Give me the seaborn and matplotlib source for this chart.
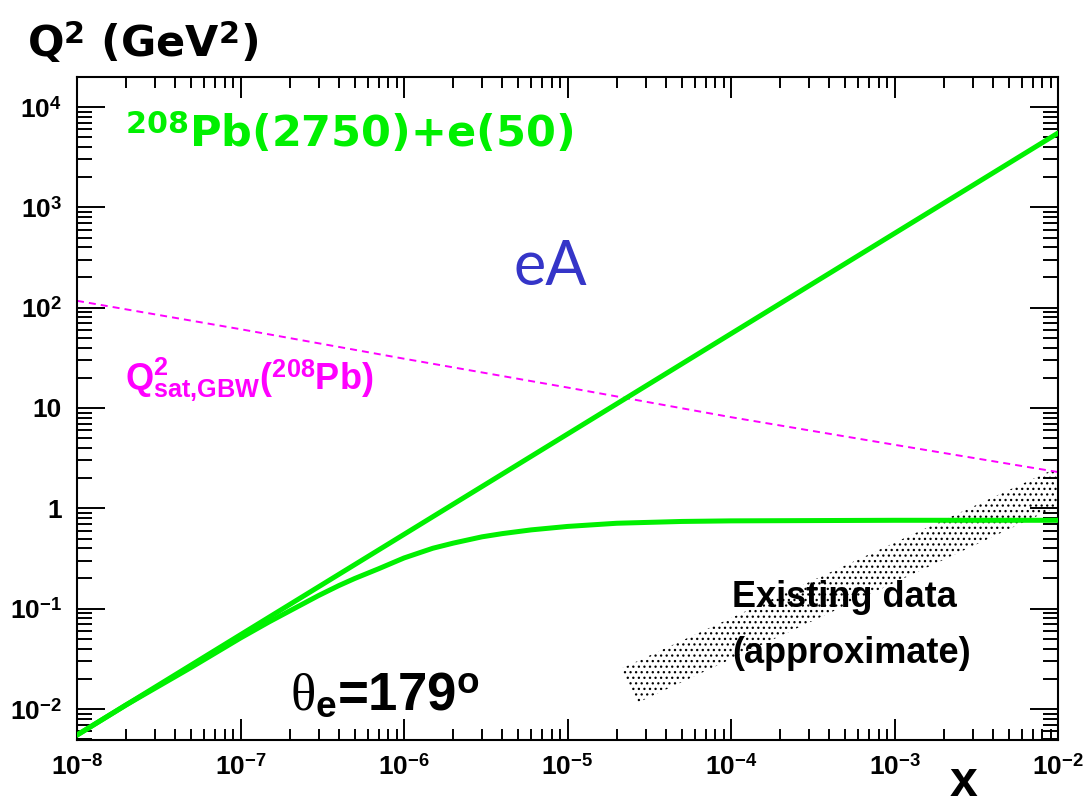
import matplotlib
matplotlib.use("Agg")
import matplotlib.pyplot as plt
import matplotlib.ticker as mticker
import pandas as pd
import seaborn as sns

# ---- data -------------------------------------------------------------
# kinematic limit (y = 1): Q^2 = s x
x_limit = [1e-8, 1e-7, 1e-6, 1e-5, 1e-4, 1e-3, 1e-2]
q2_limit = [0.0055, 0.055, 0.55, 5.5, 55, 550, 5500]

# fixed electron scattering angle theta_e = 179 deg
x_theta = [1e-8, 2e-8, 5e-8, 1e-7, 1.5e-7, 2e-7, 3e-7, 4e-7, 5e-7, 7e-7,
           1e-6, 1.5e-6, 2e-6, 3e-6, 4e-6, 6e-6, 1e-5, 2e-5, 5e-5, 1e-4,
           1e-3, 1e-2]
q2_theta = [0.0055, 0.011, 0.026, 0.051, 0.074, 0.095, 0.135, 0.17, 0.20,
            0.25, 0.32, 0.40, 0.45, 0.52, 0.56, 0.61, 0.66, 0.71, 0.74,
            0.75, 0.76, 0.76]

# GBW saturation scale for 208Pb
x_sat = [1e-8, 1e-7, 1e-6, 1e-5, 1e-4, 1e-3, 1e-2]
q2_sat = [117, 61, 31, 16, 8.1, 4.3, 2.3]

# approximate region covered by existing measurements (polygon corners)
band_x = [2.1e-5, 2.7e-5, 1e-2, 1e-2]
band_q2 = [0.025, 0.0116, 1.05, 2.56]

# axis ticks and labels
x_ticks = [1e-8, 1e-7, 1e-6, 1e-5, 1e-4, 1e-3, 1e-2]
x_labels = [r"$10^{-8}$", r"$10^{-7}$", r"$10^{-6}$", r"$10^{-5}$",
            r"$10^{-4}$", r"$10^{-3}$", r"$10^{-2}$"]
y_ticks = [1e-2, 1e-1, 1, 10, 1e2, 1e3, 1e4]
y_labels = [r"$10^{-2}$", r"$10^{-1}$", "1", "10",
            r"$10^{2}$", r"$10^{3}$", r"$10^{4}$"]

# ---- style ------------------------------------------------------------
sns.set_style("ticks")
plt.rcParams["font.family"] = ["Liberation Sans", "DejaVu Sans"]
plt.rcParams["font.weight"] = "bold"
plt.rcParams["text.color"] = "black"
plt.rcParams["axes.labelcolor"] = "black"
plt.rcParams["xtick.color"] = "black"
plt.rcParams["ytick.color"] = "black"
plt.rcParams["mathtext.fontset"] = "custom"
plt.rcParams["mathtext.rm"] = "Liberation Sans:bold"
plt.rcParams["mathtext.bf"] = "Liberation Sans:bold"
plt.rcParams["mathtext.sf"] = "Liberation Sans:bold"
plt.rcParams["mathtext.it"] = "Liberation Serif:style=normal:weight=normal"
plt.rcParams["hatch.linewidth"] = 0.9

GREEN = "#00f000"
MAGENTA = "#ff00ff"
WIDE = ["DejaVu Sans"]

W, H = 1083, 810
fig = plt.figure(figsize=(W / 100, H / 100), dpi=100)
ax = fig.add_axes([77 / W, 1 - 740 / H, (1058 - 77) / W, (740 - 77) / H])


def fx(px):
    return px / W


def fy(py):
    return 1 - py / H


ax.set_xscale("log")
ax.set_yscale("log")

# existing data band (dotted fill)
ax.fill(band_x, band_q2, facecolor="none", edgecolor="black",
        linewidth=0, hatch="...", zorder=1)

# curves
df_limit = pd.DataFrame({"x": x_limit, "Q2": q2_limit})
df_theta = pd.DataFrame({"x": x_theta, "Q2": q2_theta})
df_sat = pd.DataFrame({"x": x_sat, "Q2": q2_sat})

sns.lineplot(data=df_sat, x="x", y="Q2", ax=ax, color=MAGENTA, lw=1.4,
             ls=(0, (3.6, 2.6)), estimator=None, sort=False, zorder=2)
sns.lineplot(data=df_limit, x="x", y="Q2", ax=ax, color=GREEN, lw=3.6,
             estimator=None, sort=False, zorder=3)
sns.lineplot(data=df_theta, x="x", y="Q2", ax=ax, color=GREEN, lw=3.6,
             estimator=None, sort=False, zorder=3)

ax.set_xlim(1e-8, 1e-2)
ax.set_ylim(4.91e-3, 1.99e4)
ax.set_xlabel("")
ax.set_ylabel("")

# ticks on all four sides, pointing inwards
ax.xaxis.set_major_locator(mticker.FixedLocator(x_ticks))
ax.xaxis.set_major_formatter(mticker.FixedFormatter(x_labels))
ax.yaxis.set_major_locator(mticker.FixedLocator(y_ticks))
ax.yaxis.set_major_formatter(mticker.FixedFormatter(y_labels))
ax.xaxis.set_minor_locator(mticker.LogLocator(base=10, subs=range(2, 10), numticks=30))
ax.yaxis.set_minor_locator(mticker.LogLocator(base=10, subs=range(2, 10), numticks=30))
ax.xaxis.set_minor_formatter(mticker.NullFormatter())
ax.yaxis.set_minor_formatter(mticker.NullFormatter())

ax.tick_params(axis="both", which="both", direction="in", top=True,
               right=True, width=1.4, color="black", labelcolor="black",
               labelsize=19)
ax.tick_params(axis="x", which="major", length=15, pad=10)
ax.tick_params(axis="x", which="minor", length=8)
ax.tick_params(axis="y", which="major", length=20, pad=11)
ax.tick_params(axis="y", which="minor", length=11)
for s in ax.spines.values():
    s.set_linewidth(1.5)
    s.set_color("black")

# ---- annotations ----------------------------------------------------------
fig.text(fx(27), fy(57), r"Q$^{\mathdefault{2}}$ (GeV$^{\mathdefault{2}}$)",
         fontsize=31, fontweight="bold", family=WIDE, va="baseline",
         ha="left")
fig.text(fx(964), fy(796), "x", fontsize=36, fontweight="bold",
         va="baseline", ha="center")
fig.text(fx(125), fy(147), r"$^{\mathdefault{208}}$Pb(2750)+e(50)",
         color=GREEN, fontsize=31, fontweight="bold", family=WIDE,
         va="baseline", ha="left")
fig.text(fx(513), fy(285), "eA", color="#3535c8", fontsize=44,
         family="Lato", fontweight="normal", va="baseline", ha="left")
fig.text(fx(125), fy(390),
         r"$\mathbf{Q}^{2}_{\mathbf{sat{,}GBW}}$($^{208}$Pb)",
         color=MAGENTA, fontsize=26, fontweight="bold", va="baseline",
         ha="left")
fig.text(fx(290), fy(710), r"$\theta_{\mathbf{e}}$=179$^{\mathbf{o}}$",
         fontsize=38, fontweight="bold", va="baseline", ha="left")
fig.text(fx(732), fy(607), "Existing data", fontsize=26, fontweight="bold",
         va="baseline", ha="left")
fig.text(fx(732), fy(663), "(approximate)", fontsize=26, fontweight="bold",
         va="baseline", ha="left")

fig.savefig("out.png", dpi=100, facecolor="white")
